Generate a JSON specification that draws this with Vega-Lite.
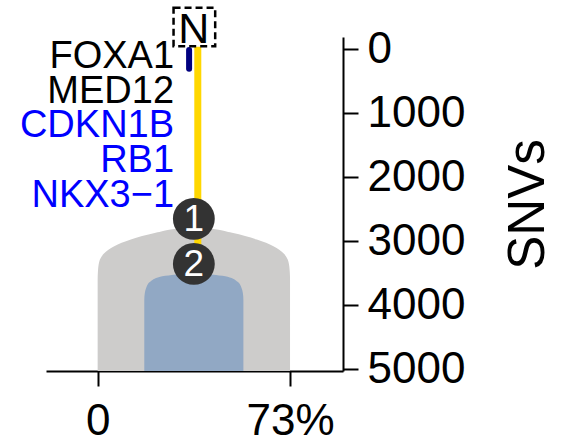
{
  "$schema": "https://vega.github.io/schema/vega-lite/v6.json",
  "width": 297,
  "height": 334,
  "autosize": {"type": "none"},
  "padding": {"left": 46, "top": 37, "right": 219, "bottom": 74},
  "background": "white",
  "config": {
    "view": {"stroke": null},
    "font": "Liberation Sans",
    "axis": {"grid": false, "domainColor": "black", "tickColor": "black", "labelColor": "black", "titleColor": "black", "domainWidth": 2, "tickWidth": 2, "labelFont": "Liberation Sans", "titleFont": "Liberation Sans", "titleFontWeight": "normal"}
  },
  "datasets": {
    "gray": [
      {"snv": 2780, "left": 36.5, "right": 36.5},
      {"snv": 2810, "left": 29.1, "right": 43.9},
      {"snv": 2870, "left": 22.0, "right": 51.0},
      {"snv": 2975, "left": 12.6, "right": 60.4},
      {"snv": 3080, "left": 6.3, "right": 66.7},
      {"snv": 3190, "left": 2.5, "right": 70.5},
      {"snv": 3322, "left": 0.6, "right": 72.4},
      {"snv": 3478, "left": 0.1, "right": 72.9},
      {"snv": 3600, "left": 0, "right": 73},
      {"snv": 5030, "left": 0, "right": 73}
    ],
    "blue": [
      {"snv": 3478, "left": 36.5, "right": 36.5},
      {"snv": 3510, "left": 31.5, "right": 41.5},
      {"snv": 3530, "left": 28.1, "right": 44.9},
      {"snv": 3556, "left": 23.7, "right": 49.3},
      {"snv": 3635, "left": 19.9, "right": 53.1},
      {"snv": 3720, "left": 18.5, "right": 54.5},
      {"snv": 3811, "left": 17.9, "right": 55.1},
      {"snv": 3920, "left": 17.7, "right": 55.3},
      {"snv": 5030, "left": 17.7, "right": 55.3}
    ],
    "trunk": [{"branch": "trunk", "x": 38.0, "start": -40, "end": 3300}],
    "driver": [{"gene": "FOXA1", "x": 34.7, "start": 10, "end": 305}],
    "clones": [
      {"clone": "1", "x": 36.5, "snv": 2651},
      {"clone": "2", "x": 36.5, "snv": 3355}
    ],
    "genes": [
      {"gene": "FOXA1", "alteration": "SNV", "x": 29.0, "snv": 285},
      {"gene": "MED12", "alteration": "SNV", "x": 29.0, "snv": 832},
      {"gene": "CDKN1B", "alteration": "CNA", "x": 29.0, "snv": 1372},
      {"gene": "RB1", "alteration": "CNA", "x": 29.0, "snv": 1919},
      {"gene": "NKX3−1", "alteration": "CNA", "x": 29.0, "snv": 2466}
    ],
    "normal": [{"label": "N", "x": 36.5, "x1": 28.8, "x2": 44.6, "y1": -650, "y2": -50, "ybase": -95}]
  },
  "layer": [
    {
      "data": {"name": "gray"},
      "mark": {"type": "area", "orient": "horizontal", "color": "#CDCCCB", "interpolate": "monotone"},
      "encoding": {
        "y": {"field": "snv", "type": "quantitative", "scale": {"domain": [-193, 5030], "reverse": true, "nice": false, "zero": false},
          "axis": {"orient": "right", "values": [0, 1000, 2000, 3000, 4000, 5000], "format": "d", "tickSize": 15, "labelPadding": 9, "labelFontSize": 44, "labelAlign": "left", "labelBaseline": "middle", "labelOverlap": false, "title": "SNVs", "titleFontSize": 51, "titleAngle": 270, "titleX": 200, "titleY": 167, "titleAlign": "center", "titleBaseline": "alphabetic"}},
        "x": {"field": "left", "type": "quantitative", "stack": null, "scale": {"domain": [-19.6, 93.1], "nice": false, "zero": false},
          "axis": {"orient": "bottom", "values": [0, 73], "labelExpr": "datum.value == 73 ? '73%' : '0'", "tickSize": 15, "labelPadding": 48, "labelFontSize": 44, "labelBaseline": "alphabetic", "labelFlush": false, "labelOverlap": false, "title": null}},
        "x2": {"field": "right"}
      }
    },
    {
      "data": {"name": "blue"},
      "mark": {"type": "area", "orient": "horizontal", "color": "#91A8C4", "interpolate": "monotone"},
      "encoding": {
        "y": {"field": "snv", "type": "quantitative"},
        "x": {"field": "left", "type": "quantitative", "stack": null},
        "x2": {"field": "right"}
      }
    },
    {
      "data": {"name": "trunk"},
      "mark": {"type": "rule", "color": "#FFD700", "strokeWidth": 7, "strokeCap": "butt"},
      "encoding": {
        "x": {"field": "x", "type": "quantitative"},
        "y": {"field": "start", "type": "quantitative"},
        "y2": {"field": "end"}
      }
    },
    {
      "data": {"name": "driver"},
      "mark": {"type": "rule", "color": "#00007F", "strokeWidth": 6, "strokeCap": "round"},
      "encoding": {
        "x": {"field": "x", "type": "quantitative"},
        "y": {"field": "start", "type": "quantitative"},
        "y2": {"field": "end"}
      }
    },
    {
      "data": {"name": "clones"},
      "mark": {"type": "point", "shape": "circle", "filled": true, "color": "#333333", "opacity": 1, "size": 1750},
      "encoding": {
        "x": {"field": "x", "type": "quantitative"},
        "y": {"field": "snv", "type": "quantitative"}
      }
    },
    {
      "data": {"name": "clones"},
      "mark": {"type": "text", "color": "white", "fontSize": 37, "align": "center", "baseline": "middle", "dy": 1},
      "encoding": {
        "x": {"field": "x", "type": "quantitative"},
        "y": {"field": "snv", "type": "quantitative"},
        "text": {"field": "clone"}
      }
    },
    {
      "data": {"name": "genes"},
      "mark": {"type": "text", "fontSize": 38, "align": "right", "baseline": "alphabetic"},
      "encoding": {
        "x": {"field": "x", "type": "quantitative"},
        "y": {"field": "snv", "type": "quantitative"},
        "text": {"field": "gene"},
        "color": {"field": "alteration", "type": "nominal", "scale": {"domain": ["SNV", "CNA"], "range": ["#000000", "#0000FF"]}, "legend": null}
      }
    },
    {
      "data": {"name": "normal"},
      "mark": {"type": "rect", "fill": null, "fillOpacity": 0, "stroke": "black", "strokeWidth": 2.5, "strokeDash": [7, 4]},
      "encoding": {
        "x": {"field": "x1", "type": "quantitative"},
        "x2": {"field": "x2"},
        "y": {"field": "y1", "type": "quantitative"},
        "y2": {"field": "y2"}
      }
    },
    {
      "data": {"name": "normal"},
      "mark": {"type": "text", "fontSize": 43, "align": "center", "baseline": "alphabetic", "color": "black"},
      "encoding": {
        "x": {"field": "x", "type": "quantitative"},
        "y": {"field": "ybase", "type": "quantitative"},
        "text": {"field": "label"}
      }
    }
  ]
}
